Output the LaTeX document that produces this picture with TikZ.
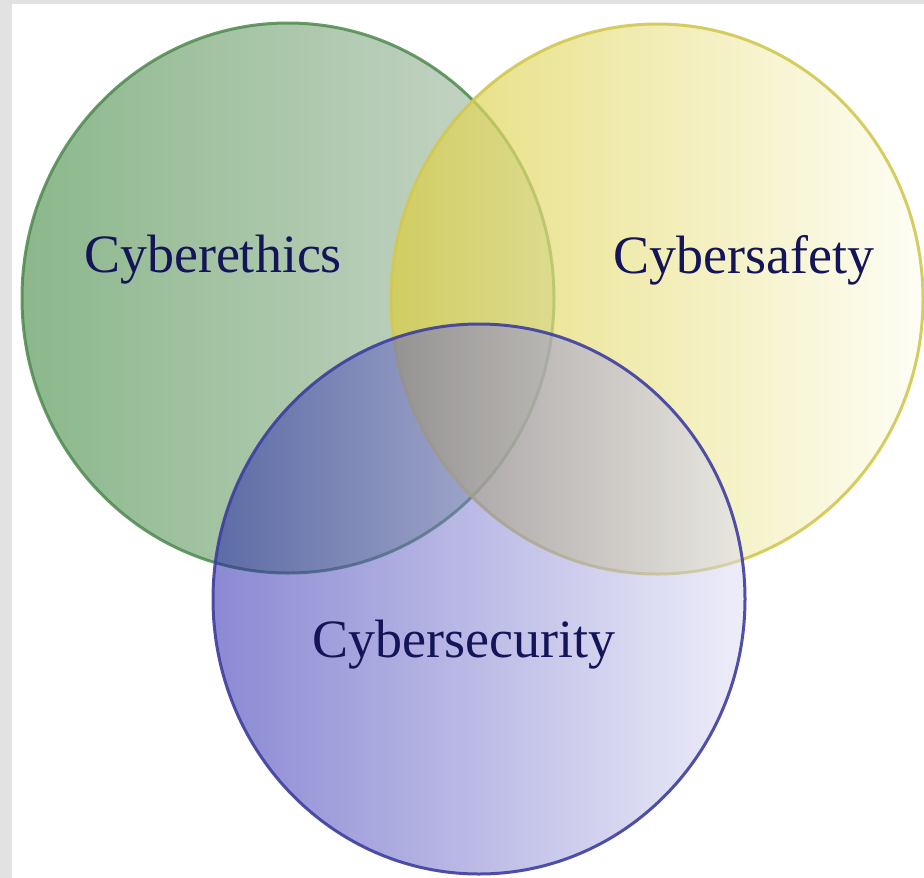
\documentclass[tikz,border=0pt]{standalone}
\usepackage{fontspec}
\setmainfont{Liberation Serif}
\usetikzlibrary{shapes.geometric}
\definecolor{bggray}{HTML}{E2E2E2}
\definecolor{gL}{RGB}{63,137,63}
\definecolor{gR}{RGB}{170,188,170}
\definecolor{gE}{HTML}{4E8A4E}
\definecolor{yL}{RGB}{219,206,62}
\definecolor{yR}{RGB}{254,254,241}
\definecolor{yE}{HTML}{D2C852}
\definecolor{bL}{RGB}{25,21,169}
\definecolor{bR}{RGB}{221,221,245}
\definecolor{bE}{HTML}{3E3EA0}
\definecolor{txt}{HTML}{141458}
\tikzset{
  venn/.style={ellipse, minimum width=532pt, minimum height=550pt, inner sep=0pt, line width=3pt},
  lbl/.style={anchor=base, text=txt, font=\fontsize{54}{60}\selectfont, inner sep=0pt}
}
\begin{document}
\begin{tikzpicture}[x=1pt,y=-1pt]
\useasboundingbox (0,0) rectangle (924,878);
\fill[bggray] (0,0) rectangle (924,878);
\fill[white] (12,4) rectangle (924,878);
\node[venn, left color=gL, right color=gR, fill opacity=0.6, draw=gE, draw opacity=0.85] (green) at (288,298) {};
\node[venn, left color=yL, right color=yR, fill opacity=0.7, draw=yE, draw opacity=0.9] (yellow) at (657,299) {};
\node[venn, left color=bL, right color=bR, fill opacity=0.5, draw=bE, draw opacity=0.9] (blue) at (479,599) {};
\node[lbl] (t1) at (213,272) {Cyberethics};
\node[lbl] (t2) at (744,273) {Cybersafety};
\node[lbl] (t3) at (464,657) {Cybersecurity};
\end{tikzpicture}
\end{document}
